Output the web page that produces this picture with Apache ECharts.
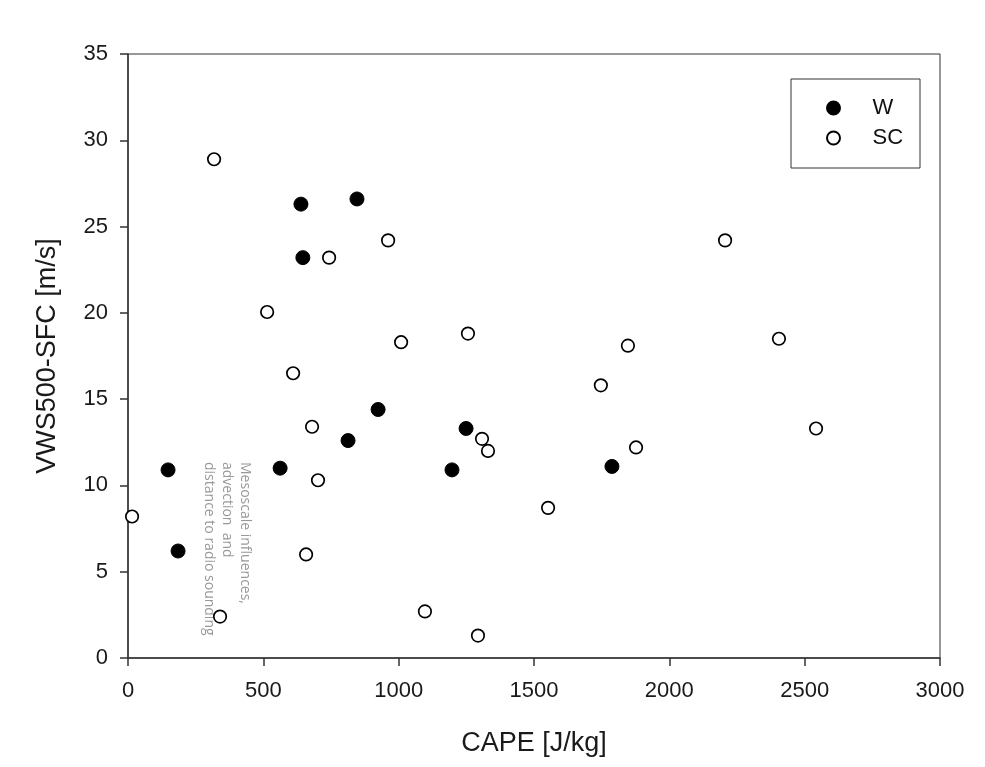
<!DOCTYPE html>
<html><head><meta charset="utf-8">
<script src="https://cdn.jsdelivr.net/npm/echarts@6/dist/echarts.min.js"></script>
<style>html,body{margin:0;padding:0;background:#fff}#c{width:985px;height:767px}</style>
</head><body><div id="c"></div>
<script>
const wCape = [148, 185, 562, 639, 646, 846, 813, 924, 1249, 1197, 1788];
const wVws  = [10.9, 6.2, 11.0, 26.3, 23.2, 26.6, 12.6, 14.4, 13.3, 10.9, 11.1];
const scCape = [15, 318, 340, 514, 610, 680, 658, 702, 743, 961, 1009, 1097, 1256, 1308, 1330, 1293, 1552, 1747, 1847, 1877, 2206, 2405, 2542];
const scVws  = [8.2, 28.9, 2.4, 20.05, 16.5, 13.4, 6.0, 10.3, 23.2, 24.2, 18.3, 2.7, 18.8, 12.7, 12.0, 1.3, 8.7, 15.8, 18.1, 12.2, 24.2, 18.5, 13.3];
const seriesNames = ['W', 'SC'];
const note = 'Mesoscale influences,\nadvection  and\ndistance to radio sounding';

const chart = echarts.init(document.getElementById('c'));
const font = 'Liberation Sans';
chart.setOption({
  animation: false,
  grid: {left: 128, right: 45, top: 54, bottom: 109, show: true, borderColor: '#333', borderWidth: 1},
  legend: {
    left: 826, top: 97, orient: 'vertical', padding: 0, itemGap: 8,
    itemWidth: 14, itemHeight: 13,
    textStyle: {fontFamily: font, fontSize: 22, lineHeight: 22, color: '#111', padding: [0, 0, 0, 27]},
    data: [{name: 'W', icon: 'circle'}, {name: 'SC', icon: 'circle'}]
  },
  xAxis: {
    type: 'value', min: 0, max: 3000, interval: 500,
    name: 'CAPE [J/kg]', nameLocation: 'middle', nameGap: 72,
    nameTextStyle: {fontFamily: font, fontSize: 27, color: '#1a1a1a'},
    axisLine: {show: true, lineStyle: {color: '#333', width: 1.5}},
    axisTick: {show: true, length: 8, lineStyle: {color: '#333', width: 1.5}},
    axisLabel: {fontFamily: font, fontSize: 22, color: '#1a1a1a', margin: 22, formatter: v => String(v)},
    splitLine: {show: false}
  },
  yAxis: {
    type: 'value', min: 0, max: 35, interval: 5,
    name: 'VWS500-SFC [m/s]', nameLocation: 'middle', nameGap: 67,
    nameTextStyle: {fontFamily: font, fontSize: 27, color: '#1a1a1a'},
    axisLine: {show: true, lineStyle: {color: '#333', width: 1.5}},
    axisTick: {show: true, length: 8, lineStyle: {color: '#333', width: 1.5}},
    axisLabel: {fontFamily: font, fontSize: 22, color: '#1a1a1a', margin: 20},
    splitLine: {show: false}
  },
  series: [
    {name: seriesNames[0], type: 'scatter', symbol: 'circle', symbolSize: 14,
     itemStyle: {color: '#000', borderColor: '#000', borderWidth: 1, opacity: 1},
     data: wCape.map((x, i) => [x, wVws[i]])},
    {name: seriesNames[1], type: 'scatter', symbol: 'circle', symbolSize: 12.5,
     itemStyle: {color: '#fff', borderColor: '#000', borderWidth: 1.7, opacity: 1},
     data: scCape.map((x, i) => [x, scVws[i]])}
  ],
  graphic: [{
    type: 'rect', shape: {x: 791, y: 79, width: 129, height: 89}, silent: true,
    style: {fill: 'none', stroke: '#333', lineWidth: 1}
  }, {
    type: 'text', x: 254, y: 462, rotation: -Math.PI / 2,
    style: {text: note, fill: '#999', font: '14px "Open Sans", sans-serif', lineHeight: 18, align: 'left', verticalAlign: 'top'}
  }]
});
</script></body></html>
